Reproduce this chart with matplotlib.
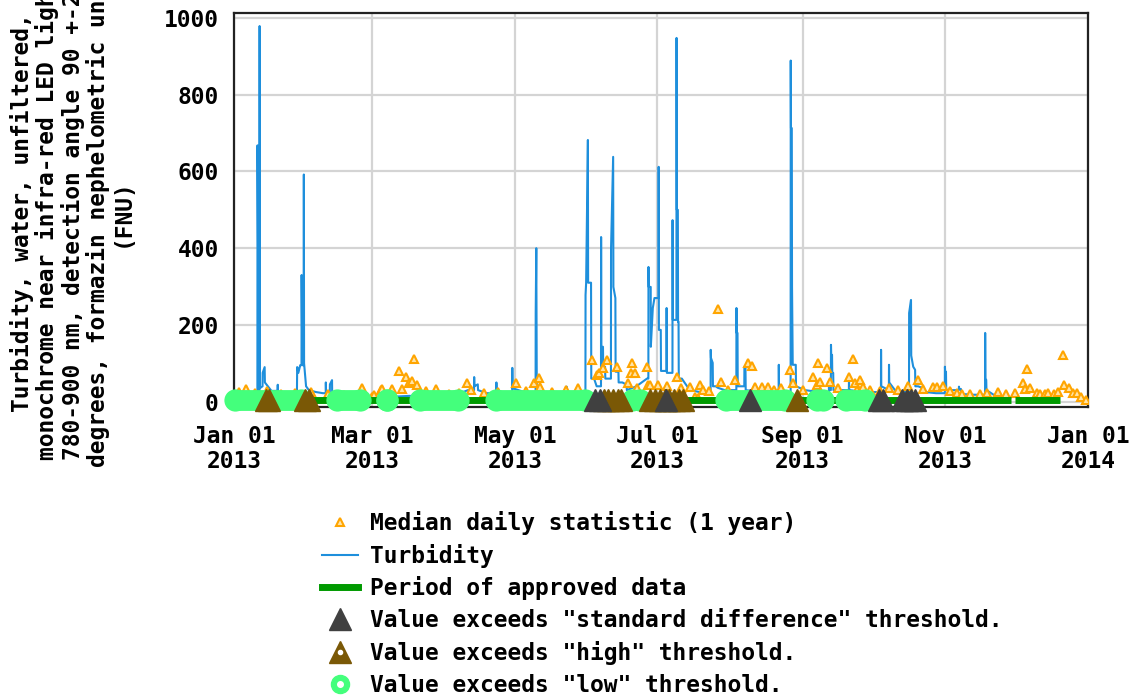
import matplotlib
matplotlib.use("Agg")
import matplotlib.pyplot as plt
from matplotlib.lines import Line2D
from datetime import datetime, timedelta

# ---------------- data (day-of-year offsets from 2013-01-01) ----------------
turb_days = [0, 4, 8, 10.0, 10.05, 10.3, 10.6, 10.9, 10.95, 11.05, 12.2, 12.25, 13.1, 13.2, 14.5, 16,
             18.65, 18.7, 18.75, 22, 26.9, 27.0, 27.5, 28.3, 28.85, 28.9, 29.2, 29.8, 29.85, 29.95, 30.8,
             32, 35, 38, 39.2, 39.25, 39.35, 40.95, 41.0, 41.9, 41.95, 46, 55, 65, 75, 85, 95, 100,
             102.6, 102.65, 102.75, 104.2, 104.3, 108, 112.1, 112.15, 112.25, 116, 118.9, 118.95, 119.05,
             124, 128.9, 128.95, 129.2, 129.3, 129.4, 131.2, 136, 142.1, 142.15, 142.25, 146.95, 147.0,
             147.1, 150.2, 150.25, 150.5, 151.25, 151.35, 152.6, 152.7, 153.9, 155, 156.85, 156.9, 157.0,
             157.7, 157.8, 158.6, 158.7, 161.1, 161.15, 162.05, 162.15, 163.0, 163.1, 164.3, 164.4, 166,
             167.75, 167.8, 167.9, 172, 176.5, 177.1, 177.15, 177.25, 178.1, 178.15, 179.0, 179.7, 180.6,
             181.45, 181.5, 181.6, 182.4, 182.5, 183.7, 184.85, 184.9, 185.0, 186.7, 187.4, 187.45,
             187.55, 188.0, 189.1, 189.15, 189.25, 189.7, 189.8, 190.0, 190.1, 191.4, 194.8, 199, 203.7,
             203.75, 203.85, 204.6, 204.7, 205.9, 206.8, 209.8, 214.7, 214.75, 214.85, 215.2, 215.3,
             216.5, 218.1, 218.15, 218.6, 218.7, 225, 232.8, 232.85, 232.95, 236, 237.9, 237.95, 238.05,
             238.4, 238.5, 238.8, 240.1, 240.2, 244, 250, 254.25, 254.3, 254.35, 255.1, 255.15, 255.25,
             255.6, 255.7, 256.1, 256.2, 262.8, 262.85, 262.95, 270, 276.5, 276.55, 276.65, 279.9, 279.95,
             280.05, 282.5, 286, 288.5, 288.55, 289.35, 289.45, 290.3, 291.1, 291.2, 292.4, 294.1, 295.4,
             300, 303.8, 303.85, 303.95, 304.3, 304.4, 305.2, 309.8, 309.85, 309.95, 310.7, 310.8, 316,
             321.0, 321.05, 321.15, 321.5, 321.6, 325.4]
turb_vals = [15, 18, 22, 25, 668, 351, 30, 30, 979, 35, 40, 75, 90, 50, 40, 28,
             28, 44, 22, 18, 25, 90, 75, 95, 95, 330, 95, 95, 592, 100, 40,
             30, 25, 22, 22, 50, 25, 25, 45, 56, 22, 18, 15, 12, 15, 12, 18, 30,
             30, 64, 40, 45, 30, 22, 22, 50, 20, 25, 25, 88, 35,
             25, 25, 231, 400, 231, 40, 25, 22, 22, 39, 20, 20, 39,
             22, 22, 278, 309, 682, 310, 310, 60, 60, 40, 40, 429, 143,
             143, 91, 91, 60, 60, 400, 638, 299, 270, 78, 78, 50, 50,
             44, 44, 30, 40, 60, 60, 351, 299, 299, 143, 244, 270, 270,
             270, 612, 187, 187, 80, 80, 80, 244, 75, 75, 75, 473,
             213, 213, 213, 948, 500, 500, 208, 208, 60, 60, 30, 25, 25,
             135, 114, 101, 40, 40, 36, 30, 30, 244, 179, 179, 40,
             40, 40, 91, 91, 30, 25, 25, 96, 30, 25, 25, 889, 713,
             713, 300, 96, 96, 40, 30, 25, 25, 49, 30, 30, 148, 122,
             122, 75, 75, 30, 30, 62, 30, 25, 25, 135, 40, 30, 96,
             50, 30, 25, 25, 231, 265, 120, 91, 83, 40, 40, 36, 25,
             22, 22, 91, 78, 78, 30, 30, 30, 39, 33, 33, 20, 18,
             18, 179, 57, 57, 30, 15]

med_days = [2, 5, 9, 14, 20, 26, 33, 40, 47, 54.7, 59, 59.9, 62.9, 63.3, 67.6, 70.6, 71.9, 73.6, 74.9,
            76.1, 77, 78.3, 82, 86.4, 92, 96, 99.7, 101.4, 107, 113, 120.7, 125, 128.4, 130.5, 130.8,
            136, 142, 147, 152.8, 155.3, 156.2, 157.5, 159.6, 163.9, 168.2, 169.5, 170.3, 171.2, 172.1,
            176.4, 176.8, 177.7, 181.1, 185, 189.2, 191, 194.8, 196.9, 198.2, 199, 200.3, 203, 206.8,
            208.1, 211, 214, 219.6, 221.3, 222.6, 225.6, 228.2, 231, 234, 237.6, 238.9, 243, 247.4,
            249.2, 249.6, 250.5, 253.5, 254.7, 258, 262.9, 264.6, 265.4, 266.3, 267.6, 268.8, 272, 276,
            280, 284, 288, 292.4, 294.5, 298.8, 300.5, 303.1, 306, 309.1, 311.3, 314.7, 319, 322, 326.7,
            330, 334, 337.4, 338.2, 339.1, 340.4, 343.4, 344.5, 346.8, 348, 350.3, 352, 354.5, 354.9,
            356.7, 358.4, 360.5, 361.8, 364]
med_vals = [25, 33, 22, 28, 20, 22, 25, 20, 18, 36, 12, 18, 31, 33, 33, 80, 33, 64, 49,
            54, 111, 44, 28, 33, 20, 22, 49, 31, 22, 25, 49, 28, 49, 62, 39,
            25, 30, 35, 109, 70, 75, 88, 109, 91, 49, 75, 101, 75, 36,
            91, 44, 44, 44, 40, 64, 35, 39, 13, 10, 44, 31, 28, 241,
            52, 30, 57, 101, 93, 39, 39, 39, 30, 35, 83, 49, 30, 64,
            44, 101, 52, 88, 52, 35, 64, 111, 49, 31, 57, 39, 30, 28,
            35, 30, 40, 57, 33, 39, 39, 41, 28, 23, 20, 20, 20, 22, 26,
            20, 23, 49, 33, 85, 36, 23, 20, 20, 22, 20, 24, 122, 44,
            36, 23, 23, 13, 5]

approved_periods = [(0, 332), (334, 353)]
low_periods = [(0.4, 28.5), (43.9, 53.7), (65.2, 65.2), (79.3, 95.9), (112.1, 150.1),
               (170.1, 173.5), (210.2, 235.3), (249.0, 251.6), (261.4, 269.5)]
high_days = [13.5, 15, 30.5, 32, 158, 160, 162, 164, 165.5, 178, 180, 182, 184, 186, 188, 190, 192, 240.5]
std_days = [154.5, 156.5, 184.5, 220.5, 275.5, 277.5, 285.5, 287.5, 289.5, 291]

tick_labels = ["Jan 01\n2013", "Mar 01\n2013", "May 01\n2013", "Jul 01\n2013",
               "Sep 01\n2013", "Nov 01\n2013", "Jan 01\n2014"]
tick_dates = ["2013-01-01", "2013-03-01", "2013-05-01", "2013-07-01",
              "2013-09-01", "2013-11-01", "2014-01-01"]
yticks = [0, 200, 400, 600, 800, 1000]

# ---------------- styling ----------------
START = datetime(2013, 1, 1)
def D(days):
    return [START + timedelta(days=float(d)) for d in days]

FONT = "DejaVu Sans Mono"
FS = 16.5
plt.rcParams["font.family"] = FONT
plt.rcParams["font.weight"] = "bold"

C_BLUE = "#1e8fdc"
C_MED = "#ffa500"
C_APPR = "#009a00"
C_STD = "#404040"
C_HIGH = "#7a5806"
C_LOW = "#44ff7c"

fig = plt.figure(figsize=(11.3, 6.96), dpi=100)
ax = fig.add_axes([234 / 1130, 1 - 407 / 696, (1088 - 234) / 1130, (407 - 13) / 696])

ax.plot(D(turb_days), turb_vals, color=C_BLUE, lw=1.5, zorder=3)
ax.plot(D(med_days), med_vals, ls="none", marker="^", ms=6, mfc="#ffe4a8", mec=C_MED, mew=1.5, zorder=4)

for s, e in approved_periods:
    ax.plot(D([s, e]), [3.5, 3.5], color=C_APPR, lw=5, solid_capstyle="butt", zorder=5, clip_on=False)
for s, e in low_periods:
    ax.plot(D([s, e]), [3.5, 3.5], color=C_LOW, lw=15, marker="o", ms=15, mec=C_LOW,
            solid_capstyle="round", zorder=6, clip_on=False)
ax.plot(D(high_days), [3] * len(high_days), ls="none", marker="^", ms=16, color=C_HIGH, zorder=7, clip_on=False)
ax.plot(D(std_days), [3] * len(std_days), ls="none", marker="^", ms=16, color=C_STD, zorder=8, clip_on=False)

ax.set_xlim(START, datetime(2014, 1, 1))
ax.set_ylim(-14, 1013)
ax.set_xticks([datetime.strptime(t, "%Y-%m-%d") for t in tick_dates])
ax.set_xticklabels(tick_labels, fontsize=FS, fontweight="bold", linespacing=1.12)
ax.set_yticks(yticks)
ax.set_yticklabels([str(v) for v in yticks], fontsize=FS, fontweight="bold")
ax.tick_params(axis="x", length=0, pad=13)
ax.tick_params(axis="y", length=0, pad=11)
ax.grid(True, color="#d4d4d4", lw=1.6, zorder=0)
ax.set_axisbelow(True)
for sp in ax.spines.values():
    sp.set_linewidth(1.6)
    sp.set_color("#222222")

fig.text(72 / 1130, 1 - 213 / 696,
         "Turbidity, water, unfiltered,\nmonochrome near infra-red LED light,\n"
         "780-900 nm, detection angle 90 +-2.5\ndegrees, formazin nephelometric units\n(FNU)",
         rotation=90, ha="center", va="center", multialignment="center",
         fontsize=FS, fontweight="bold", linespacing=1.07)

handles = [
    Line2D([], [], ls="none", marker="^", ms=6, mfc="#ffe4a8", mec=C_MED, mew=1.5),
    Line2D([], [], color=C_BLUE, lw=1.5),
    Line2D([], [], color=C_APPR, lw=5),
    (Line2D([], [], ls="none", marker="^", ms=16, color=C_STD),),
    (Line2D([], [], ls="none", marker="^", ms=16, color=C_HIGH),
     Line2D([], [], ls="none", marker="o", ms=3, color="white")),
    (Line2D([], [], ls="none", marker="o", ms=13, color=C_LOW),
     Line2D([], [], ls="none", marker="o", ms=4, color="white")),
]
labels = ["Median daily statistic (1 year)", "Turbidity", "Period of approved data",
          'Value exceeds "standard difference" threshold.',
          'Value exceeds "high" threshold.', 'Value exceeds "low" threshold.']
fig.legend(handles, labels, loc="upper left", bbox_to_anchor=(322 / 1130, 1 - 511 / 696),
           frameon=False, handlelength=1.55, handletextpad=0.55,
           labelspacing=0.38, borderpad=0, borderaxespad=0,
           prop={"family": FONT, "weight": "bold", "size": FS})

fig.savefig("out.png", dpi=100)
